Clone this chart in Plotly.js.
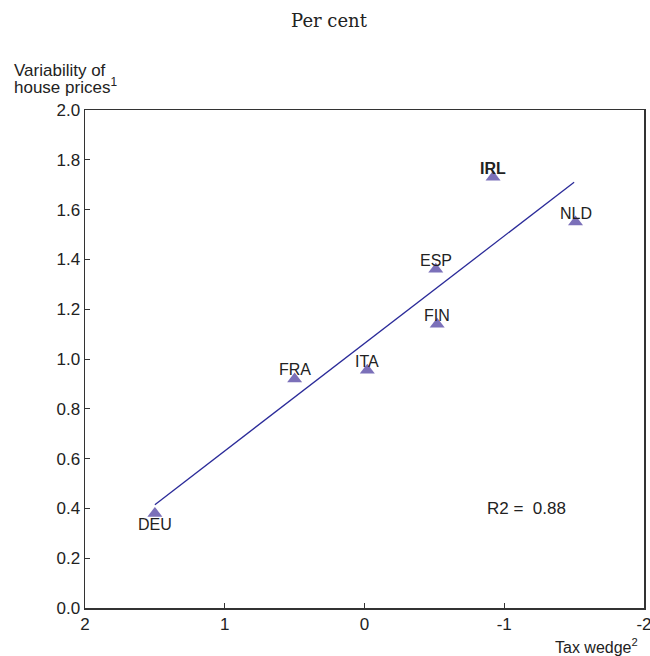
<!DOCTYPE html>
<html>
<head>
<meta charset="utf-8">
<script src="https://cdn.plot.ly/plotly-3.0.1.min.js"></script>
<style>html,body{margin:0;padding:0;background:#fff;}#chart{width:650px;height:656px;}</style>
</head>
<body>
<div id="chart"></div>
<script>
// Data
var countries = ["DEU", "FRA", "ITA", "ESP", "FIN", "IRL", "NLD"];
var taxWedge = [1.5, 0.5, -0.02, -0.51, -0.52, -0.92, -1.51];
var priceVariability = [0.38, 0.92, 0.955, 1.36, 1.14, 1.73, 1.55];
var trendX = [1.5, -1.5];
var trendY = [0.415, 1.71];
var boldLabels = ["IRL"];
var belowLabels = ["DEU"];
var xTickVals = [2, 1, 0, -1, -2];
var yTickVals = [0, 0.2, 0.4, 0.6, 0.8, 1.0, 1.2, 1.4, 1.6, 1.8, 2.0];
var r2Text = "R2 =  0.88";
var yTitleLines = ["Variability of", "house prices<sup>1</sup>"];
var xTitle = "Tax wedge<sup>2</sup>";

var font = "Liberation Sans, Arial, sans-serif";

var traces = [
  {
    x: trendX, y: trendY, mode: "lines", type: "scatter",
    line: {color: "#2b2b99", width: 1.3},
    hoverinfo: "skip", showlegend: false
  },
  {
    x: taxWedge, y: priceVariability, mode: "markers", type: "scatter",
    marker: {symbol: "triangle-up", size: 13, color: "#7b70b9", line: {width: 0}},
    showlegend: false
  }
];

var annotations = countries.map(function (c, i) {
  var bold = boldLabels.indexOf(c) >= 0;
  var below = belowLabels.indexOf(c) >= 0;
  return {
    x: taxWedge[i], y: priceVariability[i], xref: "x", yref: "y",
    text: bold ? "<b>" + c + "</b>" : c,
    showarrow: false, xanchor: "center", yanchor: "middle",
    yshift: below ? -11 : 9,
    font: {family: font, size: 16, color: "#222"}
  };
});

annotations.push({
  x: -1.16, y: 0.40, xref: "x", yref: "y", text: r2Text, showarrow: false,
  xanchor: "center", yanchor: "middle",
  font: {family: font, size: 17, color: "#222"}
});
annotations.push({
  x: -0.1306, y: 1.0803, xref: "paper", yref: "paper",
  text: yTitleLines[0], showarrow: false,
  xanchor: "left", yanchor: "middle", align: "left",
  font: {family: font, size: 17, color: "#222"}
});
annotations.push({
  x: -0.1306, y: 1.0482, xref: "paper", yref: "paper",
  text: yTitleLines[1], showarrow: false,
  xanchor: "left", yanchor: "middle", align: "left",
  font: {family: font, size: 17, color: "#222"}
});
annotations.push({
  x: 0.9928, y: -0.0763, xref: "paper", yref: "paper",
  text: xTitle, showarrow: false,
  xanchor: "right", yanchor: "middle", align: "right",
  font: {family: font, size: 16, color: "#222"}
});

var layout = {
  width: 650, height: 656,
  margin: {l: 85, r: 6, t: 110, b: 48},
  paper_bgcolor: "#fff", plot_bgcolor: "#fff",
  title: {
    text: "Per cent", x: 0.4365, xanchor: "center", y: 0.968, yanchor: "middle", xref: "paper",
    font: {family: "DejaVu Serif, Liberation Serif, serif", size: 18, color: "#222"}
  },
  xaxis: {
    range: [2, -2], tickvals: xTickVals, ticktext: xTickVals.map(String),
    ticks: "inside", ticklen: 5, tickcolor: "#333", tickwidth: 1,
    showline: true, linecolor: "#333", linewidth: 1.5, mirror: true,
    showgrid: false, zeroline: false, ticklabeloverflow: "allow",
    tickfont: {family: font, size: 17, color: "#222"}
  },
  yaxis: {
    range: [0, 2], tickvals: yTickVals, ticktext: yTickVals.map(function (v) { return v.toFixed(1); }),
    ticks: "inside", ticklen: 5, tickcolor: "#333", tickwidth: 1,
    showline: true, linecolor: "#333", linewidth: 1.5, mirror: true,
    showgrid: false, zeroline: false,
    tickfont: {family: font, size: 17, color: "#222"}
  },
  annotations: annotations,
  showlegend: false
};

Plotly.newPlot("chart", traces, layout, {staticPlot: true, displayModeBar: false});
</script>
</body>
</html>
